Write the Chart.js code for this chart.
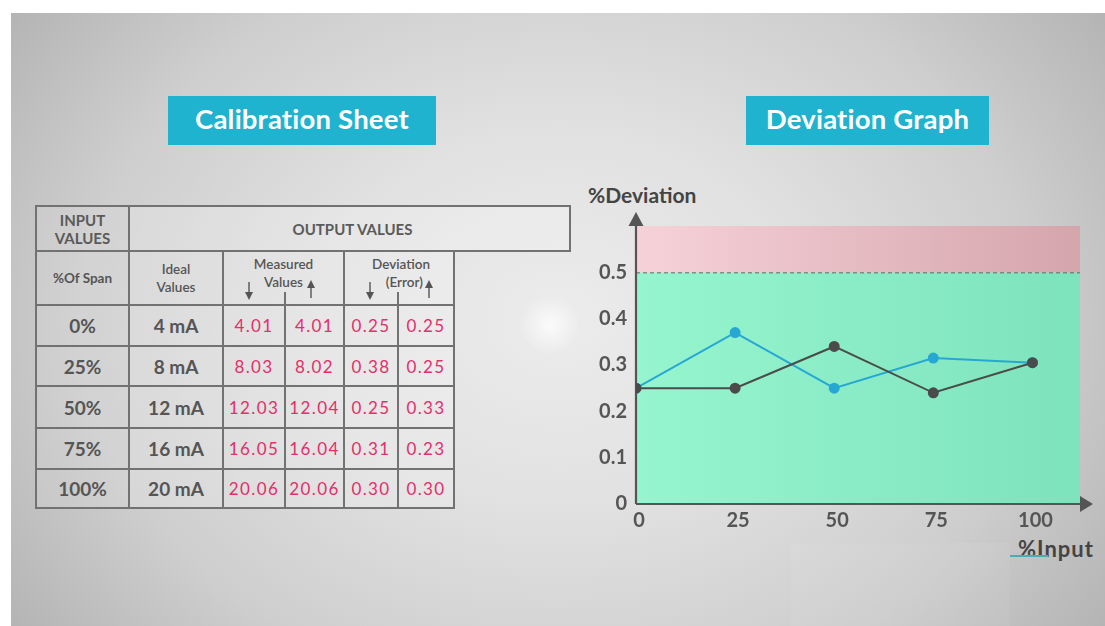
<!DOCTYPE html>
<html>
<head>
<meta charset="utf-8">
<script src="https://cdn.jsdelivr.net/npm/chart.js@4/dist/chart.umd.min.js"></script>
<style>
  html, body { margin: 0; padding: 0; background: #fff; }
  body { width: 1105px; height: 626px; position: relative; overflow: hidden; font-family: Lato, "Open Sans", sans-serif; }
  #bg {
    position: absolute; left: 11px; top: 13px; width: 1094px; height: 613px;
    background:
      radial-gradient(circle at 539px 312px, rgba(255,255,255,0.8) 0, rgba(255,255,255,0.4) 14px, rgba(255,255,255,0) 30px),
      radial-gradient(ellipse 62% 88% at 50% 50%, #ececec 0%, #e1e1e1 35%, #cecece 70%, #b3b3b3 100%);
  }
  #patch { position: absolute; left: 791px; top: 543px; width: 219px; height: 83px; background: rgba(255,255,255,0.06); }
  .title {
    position: absolute; top: 96px; height: 49px; background: #1fb3cf; color: #fff;
    font-weight: 700; font-size: 27.5px; line-height: 45px; text-align: center; letter-spacing: 0.2px;
  }
  .cell {
    position: absolute; box-sizing: border-box; border: 2px solid #727272;
    display: flex; align-items: center; justify-content: center; text-align: center;
    color: #555; background: rgba(255,255,255,0.2);
  }
  .hdr { font-size: 15px; font-weight: 700; line-height: 18px; color: #5a5a5a; }
  .sub { font-size: 13.5px; line-height: 18px; font-weight: 600; }
  .big { font-size: 19px; font-weight: 700; }
  .red { font-size: 17px; color: #e1306b; letter-spacing: 1.4px; }
  .axlbl { position: absolute; font-size: 21px; font-weight: 700; color: #444; }
  #chartBox { position: absolute; left: 580px; top: 205px; width: 525px; height: 335px; }
</style>
</head>
<body>
<div id="bg"></div>
<div id="patch"></div>
<div class="title" style="left:168px;width:268px;">Calibration Sheet</div>
<div class="title" style="left:746px;width:243px;">Deviation Graph</div>
<div id="table"></div>
<div class="axlbl" style="left:588px;top:182px;">%Deviation</div>
<div class="axlbl" style="left:1018px;top:535px;font-size:22px;letter-spacing:1px;">%Input</div>
<div style="position:absolute;left:1010px;top:555px;width:38px;height:2px;background:#4aaeb0;"></div>
<div id="chartBox"><canvas id="c" width="525" height="335"></canvas></div>
<script>
// table data
const spanLabels = ['0%', '25%', '50%', '75%', '100%'];
const idealValues = ['4 mA', '8 mA', '12 mA', '16 mA', '20 mA'];
const measuredDown = ['4.01', '8.03', '12.03', '16.05', '20.06'];
const measuredUp = ['4.01', '8.02', '12.04', '16.04', '20.06'];
const deviationDown = ['0.25', '0.38', '0.25', '0.31', '0.30'];
const deviationUp = ['0.25', '0.25', '0.33', '0.23', '0.30'];

// graph data
const inputPercent = [0, 25, 50, 75, 100];
const blueDeviation = [0.25, 0.37, 0.25, 0.315, 0.305];
const darkDeviation = [0.25, 0.25, 0.34, 0.24, 0.305];
const xTickLabels = [0, 25, 50, 75, 100];
const yTickLabels = [0, 0.1, 0.2, 0.3, 0.4, 0.5];
const limitValue = 0.5;

// table layout
const colX = [35, 128, 222, 284, 343, 397, 453];
const rowY = [205, 250, 304, 345, 385, 427, 468, 507];
const tbl = document.getElementById('table');

function cell(x0, y0, x1, y1, html, cls, extra) {
  const d = document.createElement('div');
  d.className = 'cell ' + (cls || '');
  d.style.left = x0 + 'px';
  d.style.top = y0 + 'px';
  d.style.width = (x1 - x0 + 2) + 'px';
  d.style.height = (y1 - y0 + 2) + 'px';
  if (extra) Object.assign(d.style, extra);
  d.innerHTML = html;
  tbl.appendChild(d);
  return d;
}
function arrow(x, y, up) {
  const s = document.createElementNS('http://www.w3.org/2000/svg', 'svg');
  s.setAttribute('width', 10);
  s.setAttribute('height', 18);
  s.style.position = 'absolute';
  s.style.left = (x - 5) + 'px';
  s.style.top = y + 'px';
  s.innerHTML = up
    ? '<line x1="5" y1="6" x2="5" y2="18" stroke="#555" stroke-width="1.4"/><polygon points="1,8 9,8 5,0" fill="#555"/>'
    : '<line x1="5" y1="0" x2="5" y2="12" stroke="#555" stroke-width="1.4"/><polygon points="1,10 9,10 5,18" fill="#555"/>';
  tbl.appendChild(s);
}
function vline(x, y0, y1) {
  const d = document.createElement('div');
  Object.assign(d.style, { position: 'absolute', left: x + 'px', top: y0 + 'px', width: '2px', height: (y1 - y0) + 'px', background: '#727272' });
  tbl.appendChild(d);
}

cell(colX[0], rowY[0], colX[1], rowY[1], 'INPUT<br>VALUES', 'hdr', { background: 'rgba(255,255,255,0.1)' });
cell(colX[1], rowY[0], 569, rowY[1], 'OUTPUT VALUES', 'hdr', { paddingLeft: '6px' });
cell(colX[0], rowY[1], colX[1], rowY[2], '%Of Span', 'sub', { fontWeight: 700, background: 'rgba(255,255,255,0.1)' });
cell(colX[1], rowY[1], colX[2], rowY[2], 'Ideal<br>Values', 'sub');
cell(colX[2], rowY[1], colX[4], rowY[2], 'Measured<br>Values', 'sub', { alignItems: 'flex-start', paddingTop: '3px' });
cell(colX[4], rowY[1], colX[6], rowY[2], 'Deviation<br>&nbsp;&nbsp;(Error)', 'sub', { alignItems: 'flex-start', paddingTop: '3px', paddingLeft: '4px' });
vline(colX[3], 292, rowY[2]);
vline(colX[5], 292, rowY[2]);
arrow(249, 282, false);
arrow(311, 280, true);
arrow(370, 282, false);
arrow(429, 280, true);

for (let i = 0; i < spanLabels.length; i++) {
  const y0 = rowY[i + 2], y1 = rowY[i + 3];
  cell(colX[0], y0, colX[1], y1, spanLabels[i], 'big', { background: 'rgba(255,255,255,0.1)' });
  cell(colX[1], y0, colX[2], y1, idealValues[i], 'big');
  cell(colX[2], y0, colX[3], y1, measuredDown[i], 'red');
  cell(colX[3], y0, colX[4], y1, measuredUp[i], 'red');
  cell(colX[4], y0, colX[5], y1, deviationDown[i], 'red');
  cell(colX[5], y0, colX[6], y1, deviationUp[i], 'red');
}

// background zones, dashed limit, axes with arrows
const zones = {
  id: 'zones',
  beforeDatasetsDraw(chart) {
    const { ctx, chartArea: a, scales: { y } } = chart;
    const yLim = y.getPixelForValue(limitValue);
    const y0 = y.getPixelForValue(0);
    const yTop = y.getPixelForValue(y.max);
    ctx.save();
    let g = ctx.createLinearGradient(a.left, 0, a.right, 0);
    g.addColorStop(0, '#96f5cf');
    g.addColorStop(1, '#7de3bd');
    ctx.fillStyle = g;
    ctx.fillRect(a.left, yLim, a.right - a.left, y0 - yLim);
    g = ctx.createLinearGradient(a.left, 0, a.right, 0);
    g.addColorStop(0, '#f6d2d8');
    g.addColorStop(1, '#d5a5ac');
    ctx.fillStyle = g;
    ctx.fillRect(a.left, yTop, a.right - a.left, yLim - yTop);

    ctx.strokeStyle = '#666';
    ctx.lineWidth = 1;
    ctx.setLineDash([4, 3]);
    ctx.beginPath();
    ctx.moveTo(a.left, yLim + 0.5);
    ctx.lineTo(a.right, yLim + 0.5);
    ctx.stroke();
    ctx.setLineDash([]);

    ctx.strokeStyle = '#555';
    ctx.fillStyle = '#555';
    ctx.lineWidth = 2.2;
    ctx.beginPath();
    ctx.moveTo(a.left, y0);
    ctx.lineTo(a.left, yTop);
    ctx.moveTo(a.left, y0);
    ctx.lineTo(a.right, y0);
    ctx.stroke();
    ctx.beginPath();
    ctx.moveTo(a.left - 7.5, yTop);
    ctx.lineTo(a.left + 7.5, yTop);
    ctx.lineTo(a.left, yTop - 14);
    ctx.closePath();
    ctx.fill();
    ctx.beginPath();
    ctx.moveTo(a.right, y0 - 8);
    ctx.lineTo(a.right, y0 + 8);
    ctx.lineTo(a.right + 13, y0);
    ctx.closePath();
    ctx.fill();
    ctx.restore();
  }
};

const tickFont = { family: 'Lato', size: 20, weight: '700' };

new Chart(document.getElementById('c'), {
  type: 'line',
  data: {
    datasets: [
      {
        label: 'Deviation up',
        data: inputPercent.map((v, i) => ({ x: v, y: darkDeviation[i] })),
        borderColor: '#4b4b4b',
        backgroundColor: '#4b4b4b',
        borderWidth: 2,
        pointRadius: 4.5,
        tension: 0
      },
      {
        label: 'Deviation down',
        data: inputPercent.map((v, i) => ({ x: v, y: blueDeviation[i] })),
        borderColor: '#27a8d2',
        backgroundColor: '#27a8d2',
        borderWidth: 2,
        pointRadius: 4.5,
        tension: 0
      }
    ]
  },
  options: {
    responsive: false,
    animation: false,
    events: [],
    layout: { padding: { top: 19, right: 25, left: 0, bottom: 0 } },
    plugins: { legend: { display: false }, tooltip: { enabled: false } },
    scales: {
      x: {
        type: 'linear',
        min: 0,
        max: 112,
        border: { display: false },
        grid: { display: false, drawTicks: false },
        afterBuildTicks: s => { s.ticks = xTickLabels.map(v => ({ value: v })); },
        ticks: { font: tickFont, color: '#555', padding: 5, labelOffset: 3, autoSkip: false, maxRotation: 0 },
        afterFit: s => { s.height = 36; }
      },
      y: {
        min: 0,
        max: 0.6,
        border: { display: false },
        grid: { display: false, drawTicks: false },
        afterBuildTicks: s => { s.ticks = yTickLabels.map(v => ({ value: v })); },
        ticks: {
          font: tickFont,
          color: '#555',
          padding: 9,
          autoSkip: false,
          callback: v => (v === 0 ? '0' : v.toFixed(1))
        },
        afterFit: s => { s.width = 56; }
      }
    }
  },
  plugins: [zones]
});
</script>
</body>
</html>
